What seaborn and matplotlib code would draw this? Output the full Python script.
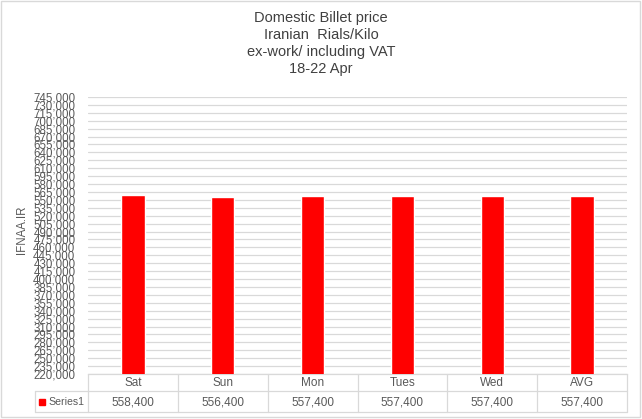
import matplotlib
matplotlib.use("Agg")
import matplotlib.pyplot as plt
from matplotlib.lines import Line2D
from matplotlib.patches import Rectangle
import seaborn as sns
import pandas as pd
import numpy as np

# ---- data ----
days = ["Sat", "Sun", "Mon", "Tues", "Wed", "AVG"]
prices = [558400, 556400, 557400, 557400, 557400, 557400]
series_name = "Series1"
title_lines = ["Domestic Billet price", "Iranian  Rials/Kilo", "ex-work/ including VAT", "18-22 Apr"]
y_label = "IFNAA.IR"
y_min, y_max, y_step = 220000, 745000, 15000

sns.set_theme(style="white")
plt.rcParams["font.family"] = ["Liberation Sans Narrow", "Liberation Sans", "DejaVu Sans"]

W, H = 642, 419
fig = plt.figure(figsize=(W / 100, H / 100), dpi=100)
fig.patch.set_facecolor("white")

ax_l, ax_r, ax_t, ax_b = 88, 627, 97, 374
ax = fig.add_axes([ax_l / W, (H - ax_b) / H, (ax_r - ax_l) / W, (ax_b - ax_t) / H])

df = pd.DataFrame({"day": days, "price": prices})
sns.barplot(data=df, x="day", y="price", color="#FF0000", saturation=1, width=0.26, ax=ax, zorder=3)

ax.set_ylim(y_min, y_max)
yt = np.arange(y_min, y_max + 1, y_step)
ax.set_yticks(yt)
ax.set_yticklabels([f"{v:,.0f}" for v in yt], fontsize=8.3, color="#595959")
ax.tick_params(axis="y", length=0, pad=9)
ax.set_xticks([])
ax.set_xlabel("")
ax.set_ylabel("")
ax.grid(axis="y", color="#d9d9d9", linewidth=0.9, zorder=0)
for s in ["left", "right", "top"]:
    ax.spines[s].set_visible(False)
ax.spines["bottom"].set_color("#d9d9d9")
ax.spines["bottom"].set_linewidth(0.9)

# ---- data table below the axis ----
def fx(x):
    return x / W

def fy(y):
    return (H - y) / H

lc = "#d9d9d9"
row1_b, row2_b, left_cell = 391, 412, 35
n = len(days)
cw = (ax_r - ax_l) / n
for yline, x0 in [(row1_b, left_cell), (row2_b, left_cell)]:
    fig.add_artist(Line2D([fx(x0), fx(ax_r)], [fy(yline), fy(yline)], color=lc, lw=0.9))
fig.add_artist(Line2D([fx(left_cell), fx(left_cell)], [fy(row1_b), fy(row2_b)], color=lc, lw=0.9))
for k in range(n + 1):
    xv = ax_l + k * cw
    fig.add_artist(Line2D([fx(xv), fx(xv)], [fy(ax_b), fy(row2_b)], color=lc, lw=0.9))
for k, (d, p) in enumerate(zip(days, prices)):
    xc = ax_l + (k + 0.5) * cw
    fig.text(fx(xc), fy((ax_b + row1_b) / 2 + 0.5), d, ha="center", va="center",
             fontsize=8.5, color="#595959")
    fig.text(fx(xc), fy((row1_b + row2_b) / 2 + 0.5), f"{p:,.0f}", ha="center", va="center",
             fontsize=8.5, color="#595959")
fig.add_artist(Rectangle((fx(39), fy(405)), 6 / W, 6 / H, color="#FF0000", transform=fig.transFigure))
fig.text(fx(48), fy((row1_b + row2_b) / 2 + 0.5), series_name, ha="left", va="center",
         fontsize=7.6, color="#595959")

# ---- titles ----
title_y = [18, 35, 52, 69]
for t, yy in zip(title_lines, title_y):
    fig.text(0.5, fy(yy), t, ha="center", va="center", fontsize=10.5,
             family=["Liberation Sans", "DejaVu Sans"], color="#404040")

fig.text(fx(22), fy(230), y_label, rotation=90, ha="center", va="center",
         fontsize=8.3, color="#595959")

# figure border
fig.add_artist(Rectangle((fx(1), fy(417)), (W - 3) / W, (416) / H, fill=False,
                         edgecolor="#d9d9d9", lw=1, transform=fig.transFigure))

fig.savefig("out.png", dpi=100)
